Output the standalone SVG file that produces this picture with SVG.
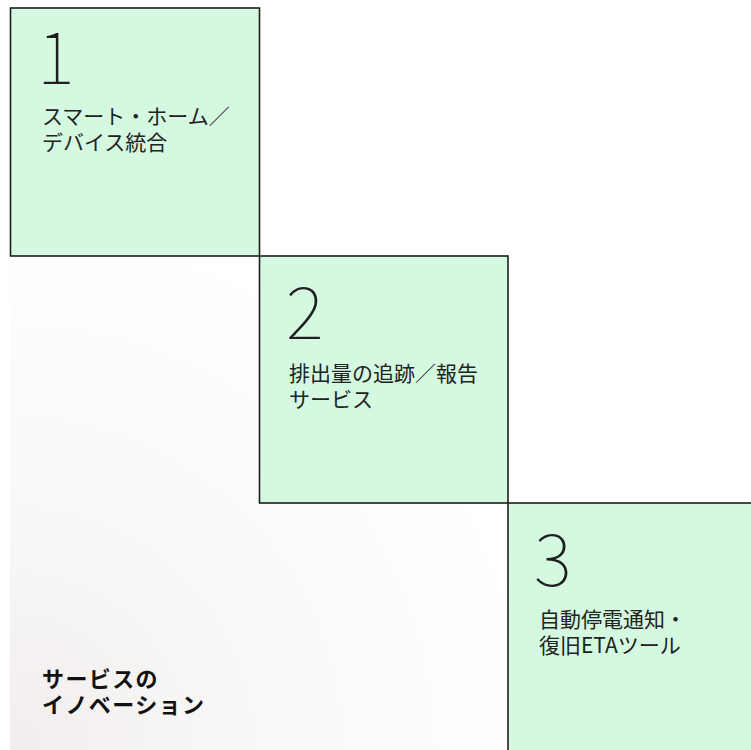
<svg xmlns="http://www.w3.org/2000/svg" width="751" height="750" viewBox="0 0 751 750">
  <defs>
    <radialGradient id="bg" gradientUnits="userSpaceOnUse" cx="10" cy="750" r="540">
      <stop offset="0" stop-color="#f1edec"/>
      <stop offset="0.45" stop-color="#f9f8f8"/>
      <stop offset="1" stop-color="#ffffff"/>
    </radialGradient>
    <style>
      .box { fill: #d4f8e0; stroke: #1e1e1e; stroke-width: 1.6; }
      .num { font-family: "Noto Sans CJK JP", "Noto Sans", sans-serif; font-weight: 100; font-size: 72px; fill: #1e1e1e; }
      .lbl { font-family: "Noto Sans CJK JP", "Noto Sans", sans-serif; font-size: 21px; fill: #222; }
      .title { font-family: "Noto Sans CJK JP", "Noto Sans", sans-serif; font-weight: bold; font-size: 22px; letter-spacing: 1.4px; fill: #111; }
    </style>
  </defs>
  <rect x="0" y="0" width="751" height="750" fill="#ffffff"/>
  <rect x="10" y="256" width="498" height="494" fill="url(#bg)"/>
  <g id="title">
    <text class="title" x="42" y="687">サービスの</text>
    <text class="title" x="42" y="713">イノベーション</text>
  </g>
  <g id="connectors"></g>
  <g id="node1">
    <rect class="box" x="10.5" y="8" width="249" height="248"/>
    <text class="num" x="37" y="84">1</text>
    <text class="lbl" x="42" y="124">スマート・ホーム／</text>
    <text class="lbl" x="42" y="150">デバイス統合</text>
  </g>
  <g id="node2">
    <rect class="box" x="259.5" y="256" width="248.5" height="247"/>
    <text class="num" x="286" y="339">2</text>
    <text class="lbl" x="289" y="381">排出量の追跡／報告</text>
    <text class="lbl" x="289" y="407">サービス</text>
  </g>
  <g id="node3">
    <rect class="box" x="508" y="503" width="260" height="260"/>
    <text class="num" x="534" y="586">3</text>
    <text class="lbl" x="539" y="627">自動停電通知・</text>
    <text class="lbl" x="539" y="653">復旧ETAツール</text>
  </g>
</svg>
